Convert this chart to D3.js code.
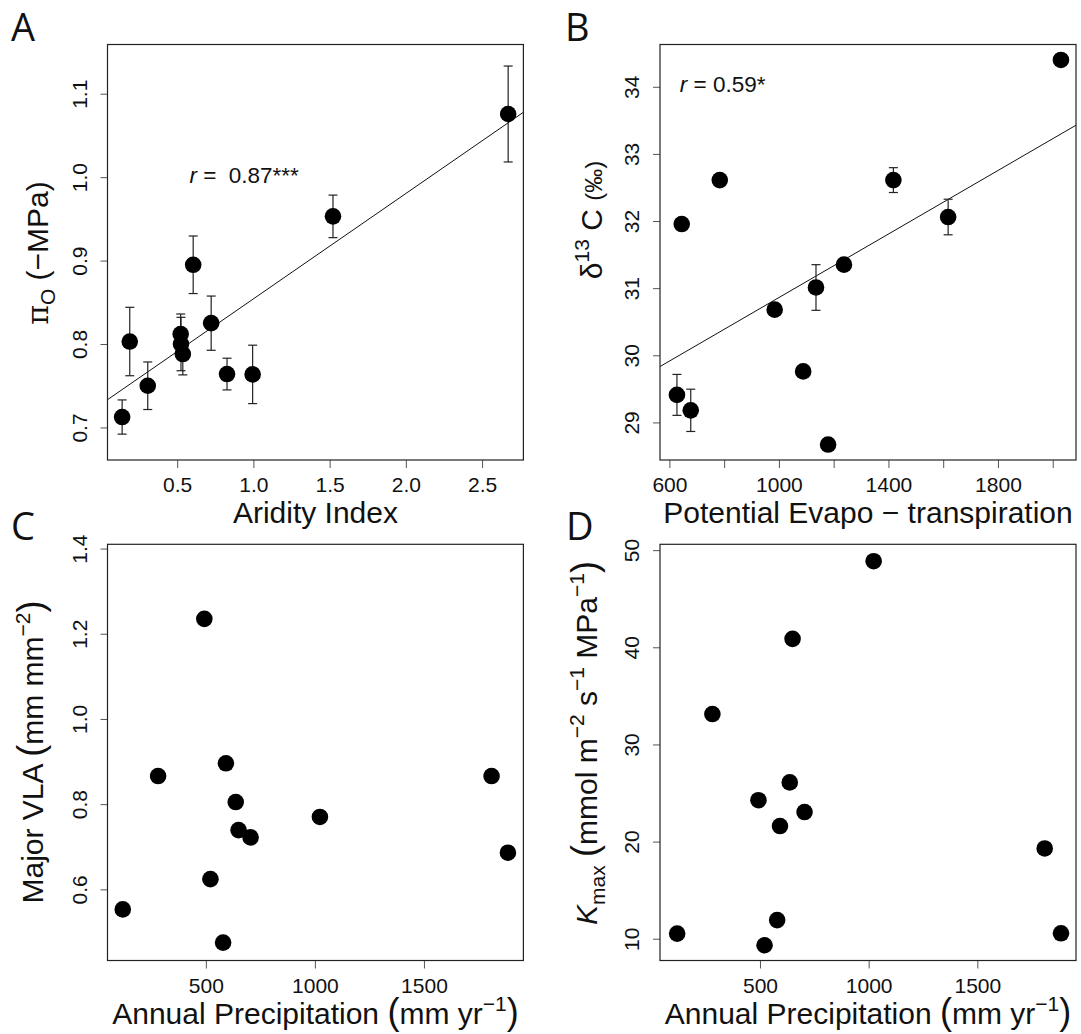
<!DOCTYPE html>
<html>
<head>
<meta charset="utf-8">
<script src="https://cdn.jsdelivr.net/npm/d3@7"></script>
<style>
body { margin: 0; background: #fff; }
svg text { font-family: "Liberation Sans", Arial, sans-serif; fill: #111; }
</style>
</head>
<body>
<div id="chart"></div>
<script>
// A: osmotic potential at full turgor vs aridity index
var aridity   = [0.139, 0.189, 0.307, 0.523, 0.525, 0.537, 0.605, 0.723, 0.827, 0.995, 1.522, 2.671];
var osmotic   = [0.7125, 0.803, 0.750, 0.812, 0.800, 0.788, 0.895, 0.825, 0.764, 0.7636, 0.953, 1.0757];
var osmoticSE = [0.0205, 0.041, 0.0285, 0.024, 0.032, 0.025, 0.0345, 0.0325, 0.019, 0.035, 0.0255, 0.0575];

// B: d13C vs potential evapotranspiration
var pet    = [627.6, 678, 645, 784, 984.5, 1088.6, 1135.4, 1179.6, 1237.6, 1418, 1618, 2030];
var d13c   = [29.41, 29.18, 31.955, 32.61, 30.68, 29.76, 31.01, 28.67, 31.35, 32.61, 32.06, 34.40];
var d13cSE = [0.305, 0.315, 0.07, 0, 0, 0, 0.34, 0, 0, 0.185, 0.265, 0];

// C, D: same sites vs annual precipitation
var precip = [119, 281, 493, 521, 579, 592, 637, 650, 705, 1023, 1810, 1885];
var vla    = [0.553, 0.866, 1.235, 0.624, 0.475, 0.896, 0.805, 0.739, 0.722, 0.770, 0.866, 0.686];
var kmax   = [10.53, 33.13, 24.26, 9.33, 11.92, 21.6, 26.09, 40.87, 23.04, 48.86, 19.29, 10.56];

// ticks
var aTicksX = [0.5, 1.0, 1.5, 2.0, 2.5];
var aTicksY = [0.7, 0.8, 0.9, 1.0, 1.1];
var bTicksX = [600, 800, 1000, 1200, 1400, 1600, 1800, 2000];
var bLabelsX = [600, 1000, 1400, 1800];
var bTicksY = [29, 30, 31, 32, 33, 34];
var cTicksX = [500, 1000, 1500];
var cTicksY = [0.6, 0.8, 1.0, 1.2, 1.4];
var dTicksY = [10, 20, 30, 40, 50];

var svg = d3.select("#chart").append("svg")
    .attr("width", 1081).attr("height", 1034);

svg.append("rect").attr("width", 1081).attr("height", 1034).attr("fill", "#fff");

var TITLE = 30;

// write text with sub/superscripts as tspans
function rich(sel, parts, fs){
  var cur = 0;
  parts.forEach(function(p){
    var target = p.sup ? -fs * 0.42 : (p.sub ? fs * 0.25 : 0);
    var ts = sel.append("tspan").text(p.t).attr("dy", target - cur);
    cur = target;
    if (p.sup || p.sub) ts.attr("font-size", fs * 0.7);
    if (p.size) ts.attr("font-size", fs * p.size);
    if (p.it) ts.attr("font-style", "italic");
    if (p.font) ts.style("font-family", p.font);
    if (p.dx) ts.attr("dx", p.dx);
  });
}

function linfit(xs, ys){
  var mx = d3.mean(xs), my = d3.mean(ys);
  var sxy = d3.sum(xs, function(v, i){ return (v - mx) * (ys[i] - my); });
  var sxx = d3.sum(xs, function(v){ return (v - mx) * (v - mx); });
  var b = sxy / sxx;
  return {a: my - b * mx, b: b};
}

var clipN = 0;
function panel(p){
  var x = d3.scaleLinear().domain(p.xDomain).range([p.left, p.right]);
  var y = d3.scaleLinear().domain(p.yDomain).range([p.bottom, p.top]);
  var g = svg.append("g");

  var xAxis = g.append("g").attr("transform", "translate(0," + p.bottom + ")")
    .call(d3.axisBottom(x).tickValues(p.xTicks).tickSize(8).tickSizeOuter(0)
      .tickFormat(function(d){ return p.xLabels.indexOf(d) >= 0 ? p.xFmt(d) : ""; }));
  xAxis.select(".domain").remove();
  xAxis.selectAll("line").attr("stroke", "#555");
  xAxis.selectAll("text").attr("y", 32).attr("dy", null)
    .attr("font-size", 21).attr("fill", "#111").style("font-family", "Liberation Sans, Arial, sans-serif");

  var yAxis = g.append("g").attr("transform", "translate(" + p.left + ",0)")
    .call(d3.axisLeft(y).tickValues(p.yTicks).tickSize(7).tickSizeOuter(0).tickFormat(p.yFmt));
  yAxis.select(".domain").remove();
  yAxis.selectAll("line").attr("stroke", "#555");
  yAxis.selectAll("text").attr("x", 0).attr("y", -21).attr("dy", null)
    .attr("transform", "rotate(-90)").attr("text-anchor", "middle")
    .attr("font-size", 21).attr("fill", "#111").style("font-family", "Liberation Sans, Arial, sans-serif");

  var id = "clip" + (clipN++);
  svg.append("clipPath").attr("id", id).append("rect")
    .attr("x", p.left).attr("y", p.top)
    .attr("width", p.right - p.left).attr("height", p.bottom - p.top);

  if (p.fit) {
    var f = linfit(p.xs, p.ys);
    g.append("line").attr("clip-path", "url(#" + id + ")")
      .attr("x1", x(p.xDomain[0])).attr("y1", y(f.a + f.b * p.xDomain[0]))
      .attr("x2", x(p.xDomain[1])).attr("y2", y(f.a + f.b * p.xDomain[1]))
      .attr("stroke", "#111").attr("stroke-width", 1);
  }

  if (p.err) {
    var eb = g.append("g").attr("stroke", "#222").attr("stroke-width", 1.2);
    p.xs.forEach(function(v, i){
      var e = p.err[i];
      if (!e) return;
      var cx = x(v);
      eb.append("line").attr("x1", cx).attr("x2", cx)
        .attr("y1", y(p.ys[i] - e)).attr("y2", y(p.ys[i] + e));
      [p.ys[i] - e, p.ys[i] + e].forEach(function(w){
        eb.append("line").attr("x1", cx - 4.5).attr("x2", cx + 4.5)
          .attr("y1", y(w)).attr("y2", y(w));
      });
    });
  }

  g.selectAll("circle.pt").data(p.xs).enter().append("circle")
    .attr("class", "pt")
    .attr("cx", function(d){ return x(d); })
    .attr("cy", function(d, i){ return y(p.ys[i]); })
    .attr("r", 8.3).attr("fill", "#000");

  g.append("rect").attr("x", p.left).attr("y", p.top)
    .attr("width", p.right - p.left).attr("height", p.bottom - p.top)
    .attr("fill", "none").attr("stroke", "#222").attr("stroke-width", 1.2);

  // axis titles
  var xt = g.append("text").attr("x", (p.left + p.right) / 2).attr("y", p.bottom + 63)
    .attr("text-anchor", "middle").attr("font-size", TITLE).style("white-space", "pre");
  rich(xt, p.xTitle, TITLE);

  var yt = g.append("text")
    .attr("transform", "translate(" + (p.left - p.yTitleOff) + "," + p.yTitleMid + ") rotate(-90)")
    .attr("text-anchor", "middle").attr("font-size", TITLE).style("white-space", "pre");
  rich(yt, p.yTitle, TITLE);

  // panel letter
  g.append("text").attr("x", p.letterX).attr("y", p.top - 4)
    .attr("font-size", 38)
    .style("font-family", "'Open Sans', 'Noto Sans', sans-serif").attr("fill", "#222")
    .text(p.letter);

  if (p.rText) {
    var rt = g.append("text").attr("x", p.rText.x).attr("y", p.rText.y)
      .attr("font-size", 22.5).style("white-space", "pre");
    rich(rt, p.rText.parts, 22.5);
  }
}

var fmt1 = d3.format(".1f"), fmt0 = d3.format("d");
var precipTitle = [{t: "Annual Precipitation "}, {t: "(", size: 1.2}, {t: "mm yr"}, {t: "\u22121", sup: true}, {t: ")", size: 1.2}];

panel({
  letter: "A", letterX: 11, left: 107.5, right: 523.4, top: 44.5, bottom: 460,
  xDomain: [0.043, 2.771], yDomain: [0.661, 1.159],
  xTicks: aTicksX, xLabels: aTicksX, xFmt: fmt1, yTicks: aTicksY, yFmt: fmt1,
  xs: aridity, ys: osmotic, err: osmoticSE, fit: true,
  xTitle: [{t: "Aridity Index"}],
  yTitle: [{t: "\u03c0", font: "DejaVu Serif"}, {t: "O", sub: true}, {t: " (\u2212MPa)"}],
  yTitleOff: 60, yTitleMid: 253,
  rText: {x: 189.4, y: 183.3, parts: [{t: "r", it: true}, {t: " =  0.87***"}]}
});

panel({
  letter: "B", letterX: 565, left: 660, right: 1076, top: 44.5, bottom: 460,
  xDomain: [565.7, 2085], yDomain: [28.44, 34.63],
  xTicks: bTicksX, xLabels: bLabelsX, xFmt: fmt0, yTicks: bTicksY, yFmt: fmt0,
  xs: pet, ys: d13c, err: d13cSE, fit: true,
  xTitle: [{t: "Potential Evapo \u2212 transpiration"}],
  yTitle: [{t: "\u03b4"}, {t: "13", sup: true}, {t: " C "}, {t: "(\u2030)", size: 0.8}],
  yTitleOff: 58, yTitleMid: 220,
  rText: {x: 679.8, y: 91.7, parts: [{t: "r", it: true}, {t: " = 0.59*"}]}
});

panel({
  letter: "C", letterX: 11, left: 107.5, right: 523.4, top: 544.3, bottom: 960.5,
  xDomain: [49, 1956], yDomain: [0.433, 1.41],
  xTicks: cTicksX, xLabels: cTicksX, xFmt: fmt0, yTicks: cTicksY, yFmt: fmt1,
  xs: precip, ys: vla,
  xTitle: precipTitle,
  yTitle: [{t: "Major VLA "}, {t: "(", size: 1.2}, {t: "mm mm"}, {t: "\u22122", sup: true}, {t: ")", size: 1.2}],
  yTitleOff: 65, yTitleMid: 752
});

panel({
  letter: "D", letterX: 566, left: 660, right: 1076, top: 544.3, bottom: 960.5,
  xDomain: [40, 1954], yDomain: [7.76, 50.6],
  xTicks: cTicksX, xLabels: cTicksX, xFmt: fmt0, yTicks: dTicksY, yFmt: fmt0,
  xs: precip, ys: kmax,
  xTitle: precipTitle,
  yTitle: [{t: "K", it: true}, {t: "max", sub: true}, {t: " "}, {t: "(", size: 1.2}, {t: "mmol m"}, {t: "\u22122", sup: true},
           {t: " s"}, {t: "\u22121", sup: true}, {t: " MPa"}, {t: "\u22121", sup: true}, {t: ")", size: 1.2}],
  yTitleOff: 63, yTitleMid: 743
});
</script>
</body>
</html>
